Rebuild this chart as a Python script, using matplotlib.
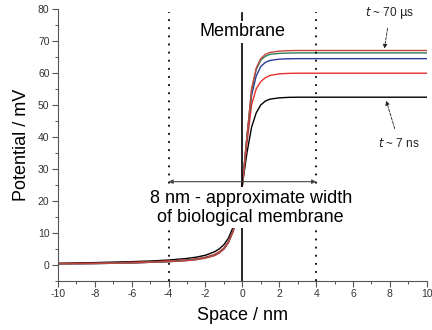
import matplotlib
matplotlib.use("Agg")
import matplotlib.pyplot as plt
from matplotlib.ticker import MultipleLocator

plt.rcParams['font.family'] = ['Liberation Sans', 'DejaVu Sans']
plt.rcParams['axes.unicode_minus'] = False

# space axis, nm (left of membrane and right of membrane)
x_left = [-10, -8, -6, -5, -4, -3, -2.5, -2, -1.5, -1.25, -1, -0.75, -0.5, -0.25, 0]
x_right = [0, 0.1, 0.25, 0.5, 0.75, 1.0, 1.25, 1.5, 2.0, 2.5, 3, 4, 6, 10]

# potential, mV, one list per time step
black_l = [0.5, 0.7, 1.0, 1.2, 1.5, 2.0, 2.4, 3.0, 4.1, 5.0, 6.3, 8.4, 11.8, 17.5, 25]
black_r = [25, 29, 35, 43, 47.5, 50, 51.2, 51.8, 52.2, 52.35, 52.4, 52.4, 52.4, 52.4]
red_l = [0.4, 0.5, 0.8, 1.0, 1.2, 1.6, 1.9, 2.4, 3.3, 4.1, 5.3, 7.4, 10.8, 16.5, 25]
red_r = [25, 30, 38, 50, 55, 57.3, 58.5, 59.2, 59.7, 59.85, 59.9, 59.9, 59.9, 59.9]
blue_l = [0.3, 0.4, 0.6, 0.8, 1.0, 1.4, 1.7, 2.2, 3.0, 3.8, 5.0, 7.1, 10.5, 16.2, 25]
blue_r = [25, 31, 40, 53, 59, 62, 63.3, 63.9, 64.3, 64.4, 64.45, 64.45, 64.45, 64.45]
green_l = [0.3, 0.4, 0.6, 0.8, 1.0, 1.4, 1.7, 2.2, 3.0, 3.8, 5.0, 7.1, 10.5, 16.2, 25]
green_r = [25, 31, 40, 54.5, 61, 64, 65.2, 65.8, 66.1, 66.2, 66.25, 66.25, 66.25, 66.25]
brown_l = [0.3, 0.4, 0.6, 0.8, 1.0, 1.3, 1.6, 2.1, 2.9, 3.7, 4.9, 7.0, 10.4, 16.0, 25]
brown_r = [25, 31, 40, 55, 61.5, 64.5, 65.8, 66.4, 66.8, 66.95, 67.0, 67.0, 67.0, 67.0]

series = [
    (black_l, black_r, 'black'),
    (red_l, red_r, '#e8302c'),
    (blue_l, blue_r, '#2e3a9a'),
    (green_l, green_r, '#2f7f5f'),
    (brown_l, brown_r, '#c4453c'),
]

fig = plt.figure(figsize=(4.32, 3.30), dpi=100)
ax = fig.add_axes([0.134, 0.149, 0.854, 0.824])

for yl, yr, c in series:
    ax.plot(x_left, yl, color=c, lw=1.0)
    ax.plot(x_right, yr, color=c, lw=1.0)

# membrane and its approximate borders
ax.axvline(0, color='black', lw=1.2, ymax=0.985)
ax.plot([-4, -4], [-5, 79], color='black', lw=1.3, ls=(0, (1, 3.5)))
ax.plot([4, 4], [-5, 79], color='black', lw=1.3, ls=(0, (1, 3.5)))

white = dict(facecolor='white', edgecolor='none', pad=1.5)
ax.text(0.45, 17.8, '8 nm - approximate width\nof biological membrane',
        ha='center', va='center', fontsize=13, linespacing=1.2,
        bbox=white, zorder=5)
ax.text(0, 72.8, 'Membrane', ha='center', va='center', fontsize=13,
        bbox=white, zorder=5)
ax.annotate('', xy=(-4, 26), xytext=(4, 26),
            arrowprops=dict(arrowstyle='<|-|>', color='#444444', lw=0.8,
                            mutation_scale=6, shrinkA=0, shrinkB=0),
            zorder=6)

ax.annotate(r'$t$ ~ 70 $\mathrm{\mu}$s', xy=(7.7, 67.6), xytext=(8.0, 78.6),
            ha='center', va='center', fontsize=8.5, color='#222222',
            arrowprops=dict(arrowstyle='-|>', color='#222222', lw=0.6, ls='--',
                            mutation_scale=6, shrinkA=3, shrinkB=0))
ax.annotate(r'$t$ ~ 7 ns', xy=(7.8, 51.3), xytext=(8.5, 38),
            ha='center', va='center', fontsize=8.5, color='#222222',
            arrowprops=dict(arrowstyle='-|>', color='#222222', lw=0.6, ls='--',
                            mutation_scale=6, shrinkA=4, shrinkB=0))

ax.set_xlim(-10, 10)
ax.set_ylim(-5, 80)
ax.xaxis.set_major_locator(MultipleLocator(2))
ax.xaxis.set_minor_locator(MultipleLocator(1))
ax.yaxis.set_major_locator(MultipleLocator(10))
ax.yaxis.set_minor_locator(MultipleLocator(5))
ax.spines['top'].set_visible(False)
ax.spines['right'].set_visible(False)
for s in ('left', 'bottom'):
    ax.spines[s].set_color('#555555')
    ax.spines[s].set_linewidth(0.8)
ax.tick_params(which='major', length=4, width=0.8, color='#555555',
               labelsize=7.5, labelcolor='#333333', pad=2)
ax.tick_params(which='minor', length=2, width=0.7, color='#555555')

ax.set_xlabel('Space / nm', fontsize=13, labelpad=6)
ax.set_ylabel('Potential / mV', fontsize=13, labelpad=6)

fig.savefig('out.png', dpi=100)
